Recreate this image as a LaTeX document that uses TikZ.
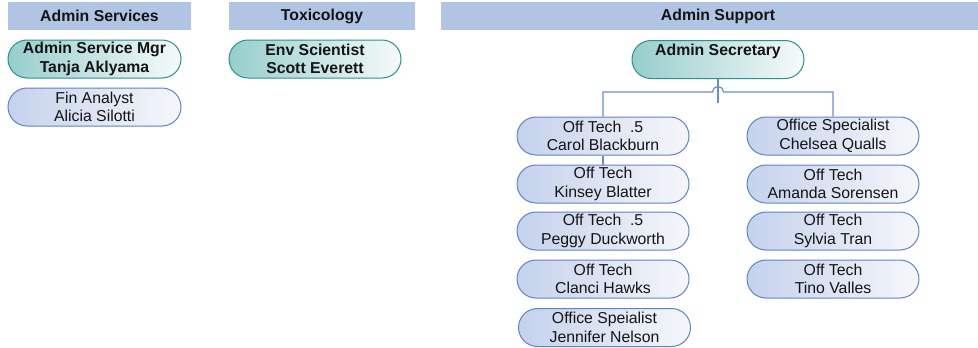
\documentclass[tikz,border=0pt]{standalone}
\usepackage{fontspec}
\setmainfont{Liberation Sans}
\usetikzlibrary{shapes.misc}
\definecolor{hdrfill}{RGB}{176,197,228}
\definecolor{blueedge}{RGB}{92,133,200}
\definecolor{blueleft}{RGB}{196,210,236}
\definecolor{blueright}{RGB}{246,247,251}
\definecolor{tealedge}{RGB}{40,146,142}
\definecolor{tealleft}{RGB}{150,206,204}
\definecolor{tealmid}{RGB}{196,228,227}
\definecolor{tealright}{RGB}{246,250,250}
\definecolor{conncol}{RGB}{104,142,208}
\definecolor{txt}{RGB}{20,20,20}
\tikzset{
  hdr/.style={rectangle, fill=hdrfill, minimum height=28pt, inner sep=0pt,
    font=\fontsize{15.8}{18.5}\selectfont\bfseries, text=txt},
  person/.style={rounded rectangle, rounded rectangle arc length=180,
    minimum width=172pt, minimum height=38pt,
    inner xsep=0pt, inner ysep=0pt, align=center, draw=blueedge, line width=1pt,
    left color=blueleft, right color=blueright,
    font=\fontsize{15.8}{18.5}\selectfont, text=txt},
  lead/.style={person, draw=tealedge, left color=tealleft, middle color=tealmid, right color=tealright,
    font=\fontsize{15.8}{18.5}\selectfont\bfseries},
  conn/.style={draw=conncol, line width=1.2pt}
}
\begin{document}
\begin{tikzpicture}[x=1pt,y=-1pt]
\useasboundingbox (0,0) rectangle (978,348);
\clip (0,0) rectangle (978,348);
% headers
\node[hdr, minimum width=183pt] (h1) at (99.5,16) {Admin Services};
\node[hdr, minimum width=186pt] (h2) at (322,16) {Toxicology};
\node[hdr, minimum width=554pt] (h3) at (718,16) {Admin Support};
% admin services
\node[lead, minimum width=173pt] (mgr) at (94.5,59) {Admin Service Mgr\\Tanja Aklyama};
\node[person, minimum width=173pt] (fin) at (94.5,107) {Fin Analyst\\Alicia Silotti};
% toxicology
\node[lead] (env) at (315,59) {Env Scientist\\Scott Everett};
% admin support
\node[lead] (sec) at (718,59.5) {Admin Secretary\\\mbox{}};
\node[person] (carol) at (603,136) {Off Tech\ \ .5\\Carol Blackburn};
\node[person] (kinsey) at (603,184) {Off Tech\\Kinsey Blatter};
\node[person] (peggy) at (603,231) {Off Tech\ \ .5\\Peggy Duckworth};
\node[person] (clanci) at (603,279) {Off Tech\\Clanci Hawks};
\node[person] (jennifer) at (604.5,327.5) {Office Speialist\\Jennifer Nelson};
\node[person] (chelsea) at (833,136) {Office Specialist\\Chelsea Qualls};
\node[person] (amanda) at (833,184) {Off Tech\\Amanda Sorensen};
\node[person] (sylvia) at (833,231) {Off Tech\\Sylvia Tran};
\node[person] (tino) at (833,279) {Off Tech\\Tino Valles};
% connectors
\draw[conn] (sec.south) -- ++(0,24);
\draw[conn] (carol.north) -- (carol.north |- 0,92) -- (712.5,92)
  arc[start angle=180, end angle=360, radius=5.5] -- (chelsea.north |- 0,92) -- (chelsea.north);
\draw[conn] (carol.south) -- (kinsey.north);
\end{tikzpicture}
\end{document}
